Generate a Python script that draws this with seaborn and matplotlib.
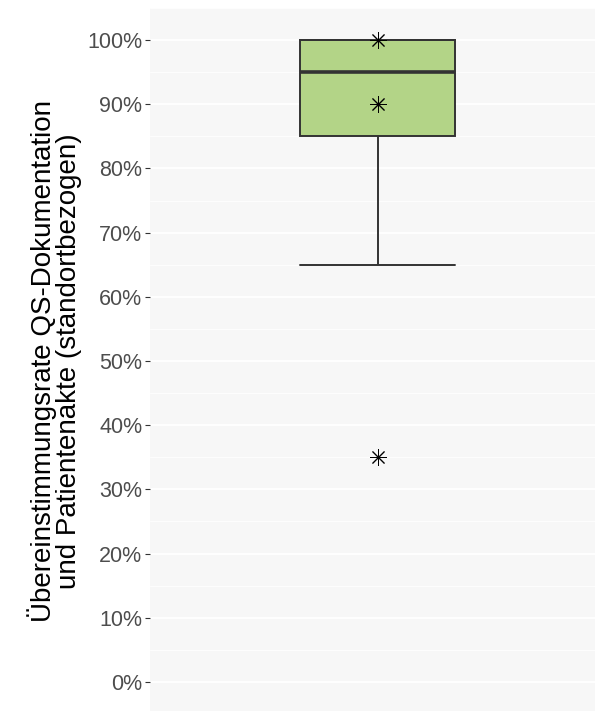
import seaborn as sns
import pandas as pd
import numpy as np
import matplotlib.pyplot as plt
from matplotlib.ticker import PercentFormatter, MultipleLocator

# Site values (share of matching records)
site_rates = [0.35, 0.65, 0.85, 0.90, 0.95, 0.95, 1.00, 1.00, 1.00]
# Sites marked with an asterisk
marked_rates = [1.00, 0.90, 0.35]
y_ticks = [0.0, 0.1, 0.2, 0.3, 0.4, 0.5, 0.6, 0.7, 0.8, 0.9, 1.0]
y_title = "Übereinstimmungsrate QS-Dokumentation\nund Patientenakte (standortbezogen)"

df = pd.DataFrame({"rate": site_rates})

sns.set_theme(style="white")
plt.rcParams["font.family"] = ["Liberation Sans", "DejaVu Sans"]

fig = plt.figure(figsize=(5.95, 7.11), dpi=100)
W, H = 595, 711
ax = fig.add_axes([150 / W, -3 / H, (605 - 150) / W, (711 + 3 - 8) / H])
ax.set_facecolor("#F7F7F7")

sns.boxplot(
    data=df, y="rate", ax=ax,
    width=0.41, color="#B3D487", linecolor="#333333", linewidth=1.4,
    showfliers=False, saturation=1,
    medianprops=dict(linewidth=2.6, color="#333333"),
    capwidths=0.41,
)

ax.plot([0] * len(marked_rates), marked_rates, linestyle="none",
        marker=(8, 2, 0), markersize=12, color="black", markeredgewidth=0.7, zorder=5)

ax.set_xlim(-0.6, 0.6)
ax.set_ylim(-0.05, 1.05)
ax.set_yticks(y_ticks)
ax.yaxis.set_minor_locator(MultipleLocator(0.05))
ax.yaxis.set_major_formatter(PercentFormatter(1.0, decimals=0))
ax.grid(axis="y", which="major", color="white", linewidth=1.3)
ax.grid(axis="y", which="minor", color="white", linewidth=0.6)
ax.set_axisbelow(True)
ax.set_xticks([])
ax.set_xlabel("")
for s in ax.spines.values():
    s.set_visible(False)
ax.tick_params(axis="y", which="major", left=True, length=3.5, width=0.8, color="#333333",
               labelsize=15.5, labelcolor="#4D4D4D", pad=2)
ax.tick_params(axis="y", which="minor", left=False)
ax.set_ylabel(y_title, fontsize=20, color="black", labelpad=4, linespacing=0.95)

fig.savefig("out.png", dpi=100)
